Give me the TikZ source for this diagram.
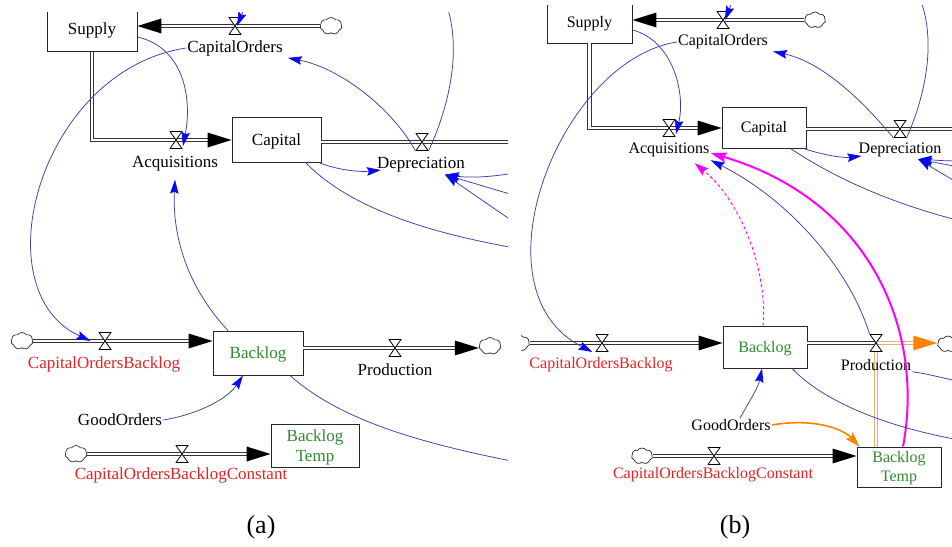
\documentclass[tikz,border=0pt]{standalone}
\usepackage{fontspec}
\setmainfont{Liberation Serif}
\usetikzlibrary{arrows.meta,shapes.symbols,decorations.markings}

\definecolor{linkblue}{RGB}{60,60,170}
\definecolor{headblue}{RGB}{10,10,240}
\definecolor{stockgreen}{RGB}{45,140,45}
\definecolor{auxred}{RGB}{225,35,35}
\definecolor{hilite}{RGB}{255,0,255}
\definecolor{flowtan}{RGB}{228,175,120}
\definecolor{flowora}{RGB}{255,130,0}

\tikzset{
  stock/.style={draw=black!85, line width=0.9pt, fill=white, inner sep=0pt, align=center,
    text depth=0.5pt},
  pipe/.style={draw=black!80, line width=0.9pt, double=white, double distance=2.6pt},
  tanpipe/.style={draw=flowtan, line width=0.9pt, double=white, double distance=2.6pt},
  pipehead/.style={shorten >=22pt, postaction={decorate, decoration={markings,
      mark=at position 1 with {\fill[#1] (0pt,0pt) -- (-24pt,7.5pt) -- (-24pt,-7.5pt) -- cycle;}}}},
  pipehead/.default=black,
  valve/.style={minimum width=13pt, minimum height=18pt, inner sep=0pt, outer sep=0pt,
    path picture={\draw[line width=0.8pt, fill=white, line join=miter]
      ([xshift=.5pt,yshift=-.5pt]path picture bounding box.north west) --
      ([xshift=-.5pt,yshift=-.5pt]path picture bounding box.north east) --
      ([xshift=.5pt,yshift=.5pt]path picture bounding box.south west) --
      ([xshift=-.5pt,yshift=.5pt]path picture bounding box.south east) -- cycle;}},
  puff/.style={cloud, cloud puffs=7, cloud puff arc=110, aspect=1.25, draw=black!85,
    line width=0.7pt, fill=white, minimum width=22pt, minimum height=17pt, inner sep=0pt},
  lbl/.style={inner sep=1pt},
  aux/.style={inner sep=1pt, text=auxred},
  link/.style={draw=linkblue, line width=0.75pt,
    -{Stealth[length=14pt,width=8.5pt,inset=2pt,color=headblue]}},
  hlink/.style={draw=hilite, line width=2pt, -{Stealth[length=16pt,width=10pt,inset=2.5pt]}},
  dlink/.style={draw=hilite, line width=0.9pt, dash pattern=on 3pt off 2.5pt,
    -{Stealth[length=14pt,width=9pt,inset=2pt]}},
  olink/.style={draw=flowora, line width=1.6pt, -{Stealth[length=15pt,width=9.5pt,inset=2.5pt]}},
  caption/.style={font=\fontsize{26}{30}\selectfont}
}

\begin{document}
\begin{tikzpicture}[x=1pt, y=-1pt]
\useasboundingbox (0,0) rectangle (952,546);

% ---------------- panel (a) ----------------
\begin{scope}[font=\fontsize{17}{20}\selectfont]
\clip (0,12) rectangle (508,546);
% stocks
\node[stock, minimum width=90pt, minimum height=45pt] (aSup) at (92,29) {Supply};
\node[stock, minimum width=89pt, minimum height=45pt] (aCap) at (276.5,139.5) {Capital};
\node[stock, minimum width=90pt, minimum height=44pt, text=stockgreen] (aBl) at (258,353) {Backlog};
\node[stock, minimum width=88pt, minimum height=43pt, text=stockgreen] (aBT) at (315,445.5) {Backlog\\Temp};
% sources and sinks
\node[puff] (aC1) at (331,26) {};
\node[puff] (aC2) at (22,341) {};
\node[puff] (aC3) at (490,346) {};
\node[puff] (aC4) at (76,454) {};
% valve positions and off-picture ends
\coordinate (aPCO) at (235,26);
\coordinate (aPAcq) at (176,140);
\coordinate (aPDep) at (422,142);
\coordinate (aPCOB) at (105,341);
\coordinate (aPP) at (395,348);
\coordinate (aPCOBC) at (182,454);
\coordinate (aOutDep) at (540,142);
\coordinate (aIn1) at (540,168);
\coordinate (aIn2) at (540,203);
\coordinate (aIn3) at (540,240);
\coordinate (aOut2) at (560,255);
\coordinate (aOut3) at (560,470);
% pipes
\draw[pipe, pipehead] (aC1.west) -- (aSup.east |- aC1.west);
\draw[pipe, pipehead] (aSup.south) |- (aCap.west |- aPAcq);
\draw[pipe] (aCap.east |- aPDep) -- (aOutDep);
\draw[pipe, pipehead] (aC2.east) -- (aBl.west |- aC2.east);
\draw[pipe, pipehead] (aBl.east |- aPP) -- (aC3.west |- aPP);
\draw[pipe, pipehead] (aC4.east) -- (aBT.west |- aC4.east);
% valves
\node[valve] (aVCO) at (aPCO) {};
\node[valve] (aVAcq) at (aPAcq) {};
\node[valve] (aVDep) at (aPDep) {};
\node[valve] (aVCOB) at (aPCOB) {};
\node[valve] (aVP) at (aPP) {};
\node[valve] (aVCOBC) at (aPCOBC) {};
% labels
\node[lbl] (aLCO) at (235,48) {CapitalOrders};
\node[lbl] (aLAcq) at (175,164) {Acquisitions};
\node[lbl] (aLDep) at (421,165) {Depreciation};
\node[aux] (aLCOB) at (104,364) {CapitalOrdersBacklog};
\node[lbl] (aLP) at (395,370) {Production};
\node[lbl] (aLGO) at (120,420) {GoodOrders};
\node[aux] (aLCOBC) at (181,475) {CapitalOrdersBacklogConstant};
% links
\draw[link] ([yshift=-8pt]aSup.east) .. controls (185,48) and (192,100) .. ([xshift=7pt,yshift=-6pt]aVAcq.center);
\draw[link] (aVDep.south east) .. controls (475,50) and (462,-60) .. (340,-60)
  .. controls (265,-60) and (250,-5) .. ([xshift=2pt]aVCO.center);
\draw[link] (aVDep.south west) .. controls (392,108) and (340,68) .. ([xshift=4pt,yshift=-1pt]aLCO.south east);
\draw[link] ([xshift=-3pt]aCap.south east) .. controls (340,171) and (362,172) .. ([xshift=5pt,yshift=-5pt]aLDep.west);
\draw[link] (aIn1) .. controls (495,178) and (470,178) .. ([xshift=24pt,yshift=-1pt]aLDep.south);
\draw[link] (aIn2) -- ([xshift=24pt,yshift=-1pt]aLDep.south);
\draw[link] (aIn3) -- ([xshift=24pt,yshift=-1pt]aLDep.south);
\draw[link] ([xshift=-16pt]aCap.south east) .. controls (350,208) and (430,236) .. (aOut2);
\draw[link] (aLCO.west) .. controls (40,70) and (-20,290) .. ([xshift=-8pt]aVCOB.west);
\draw[link] ([xshift=-30pt]aBl.north) .. controls (190,290) and (172,240) .. ([yshift=-7pt]aLAcq.south);
\draw[link] (aLGO.east) .. controls (200,414) and (228,398) .. ([xshift=-15pt]aBl.south);
\draw[link] ([xshift=32pt]aBl.south) .. controls (340,420) and (420,445) .. (aOut3);
\end{scope}
\node[caption] (capA) at (261,527) {(a)};

% ---------------- panel (b) ----------------
\begin{scope}[font=\fontsize{16}{19}\selectfont]
\clip (521,5) rectangle (952,546);
% stocks
\node[stock, minimum width=85pt, minimum height=42pt] (bSup) at (589.5,22) {Supply};
\node[stock, minimum width=84pt, minimum height=41pt] (bCap) at (764,127.5) {Capital};
\node[stock, minimum width=84pt, minimum height=42pt, text=stockgreen] (bBl) at (765,347) {Backlog};
\node[stock, minimum width=84pt, minimum height=40pt, text=stockgreen] (bBT) at (899,467) {Backlog\\Temp};
% sources and sinks
\node[puff, minimum width=21pt, minimum height=16pt] (bC1) at (815,20) {};
\node[puff, minimum width=21pt, minimum height=16pt] (bC2) at (519,343) {};
\node[puff, minimum width=21pt, minimum height=16pt] (bC3) at (948,344) {};
\node[puff, minimum width=21pt, minimum height=16pt] (bC4) at (642,456) {};
% valve positions and off-picture ends
\coordinate (bPCO) at (723,20);
\coordinate (bPAcq) at (669,128);
\coordinate (bPDep) at (900,129);
\coordinate (bPCOB) at (602,343);
\coordinate (bPP) at (876,343);
\coordinate (bPCOBC) at (714,456);
\coordinate (bOutDep) at (990,129);
\coordinate (bIn1) at (980,160);
\coordinate (bIn2) at (980,171);
\coordinate (bIn3) at (980,196);
\coordinate (bOut2) at (990,228);
\coordinate (bOut3) at (990,445);
\coordinate (bOut4) at (990,388);
% pipes
\draw[pipe, pipehead] (bC1.west) -- (bSup.east |- bC1.west);
\draw[pipe, pipehead] (bSup.south) |- (bCap.west |- bPAcq);
\draw[pipe] (bCap.east |- bPDep) -- (bOutDep);
\draw[pipe, pipehead] (bC2.east) -- (bBl.west |- bC2.east);
\draw[pipe] (bBl.east |- bPP) -- (bPP);
\draw[tanpipe, pipehead=flowora] (bPP) -- (bC3.west |- bPP);
\draw[tanpipe] (bPP) -- (bBT.north -| bPP);
\draw[pipe, pipehead] (bC4.east) -- (bBT.west |- bC4.east);
% valves
\node[valve] (bVCO) at (bPCO) {};
\node[valve] (bVAcq) at (bPAcq) {};
\node[valve] (bVDep) at (bPDep) {};
\node[valve] (bVCOB) at (bPCOB) {};
\node[valve] (bVP) at (bPP) {};
\node[valve] (bVCOBC) at (bPCOBC) {};
% labels
\node[lbl] (bLCO) at (723,42) {CapitalOrders};
\node[lbl] (bLAcq) at (669,150) {Acquisitions};
\node[lbl] (bLDep) at (900,150) {Depreciation};
\node[aux] (bLCOB) at (601,365) {CapitalOrdersBacklog};
\node[lbl] (bLP) at (876,365) {Production};
\node[lbl] (bLGO) at (731,425) {GoodOrders};
\node[aux] (bLCOBC) at (713,475) {CapitalOrdersBacklogConstant};
% links
\draw[link] ([yshift=-8pt]bSup.east) .. controls (672,40) and (686,92) .. ([xshift=7pt,yshift=-6pt]bVAcq.center);
\draw[link] (bVDep.south east) .. controls (948,45) and (935,-60) .. (820,-60)
  .. controls (748,-60) and (736,-8) .. ([xshift=2pt]bVCO.center);
\draw[link] (bVDep.south west) .. controls (862,100) and (822,62) .. ([xshift=4pt,yshift=-1pt]bLCO.south east);
\draw[link] ([xshift=-3pt]bCap.south east) .. controls (826,156) and (845,158) .. ([xshift=4pt,yshift=-6pt]bLDep.west);
\draw[link] (bIn1) .. controls (950,162) and (935,160) .. ([xshift=18pt,yshift=-1pt]bLDep.south);
\draw[link] (bIn2) -- ([xshift=18pt,yshift=-1pt]bLDep.south);
\draw[link] (bIn3) -- ([xshift=18pt,yshift=-1pt]bLDep.south);
\draw[link] ([xshift=-16pt]bCap.south east) .. controls (830,175) and (890,205) .. (bOut2);
\draw[link] (bLCO.west) .. controls (560,60) and (470,290) .. ([xshift=-3pt]bVCOB.south west);
\draw[link] (bVP.north west) .. controls (850,270) and (790,200) .. ([yshift=-2pt]bLAcq.south east);
\draw[hlink] ([xshift=4pt]bBT.north) .. controls (925,330) and (870,200) .. ([yshift=-3pt]bLAcq.east);
\draw[dlink] ([xshift=-2pt]bBl.north) .. controls (768,270) and (740,200) .. ([xshift=-16pt,yshift=-5pt]bLAcq.south east);
\draw[link] ([xshift=9pt]bLGO.north) .. controls (750,400) and (758,388) .. ([xshift=-3pt]bBl.south);
\draw[olink] (bLGO.east) .. controls (812,418) and (842,428) .. ([xshift=3pt]bBT.north west);
\draw[link] ([xshift=27pt]bBl.south) .. controls (820,398) and (880,428) .. (bOut3);
\draw[link] (bLP.south east) .. controls (930,374) and (950,380) .. (bOut4);
\end{scope}
\node[caption] (capB) at (735,527) {(b)};
\end{tikzpicture}
\end{document}
